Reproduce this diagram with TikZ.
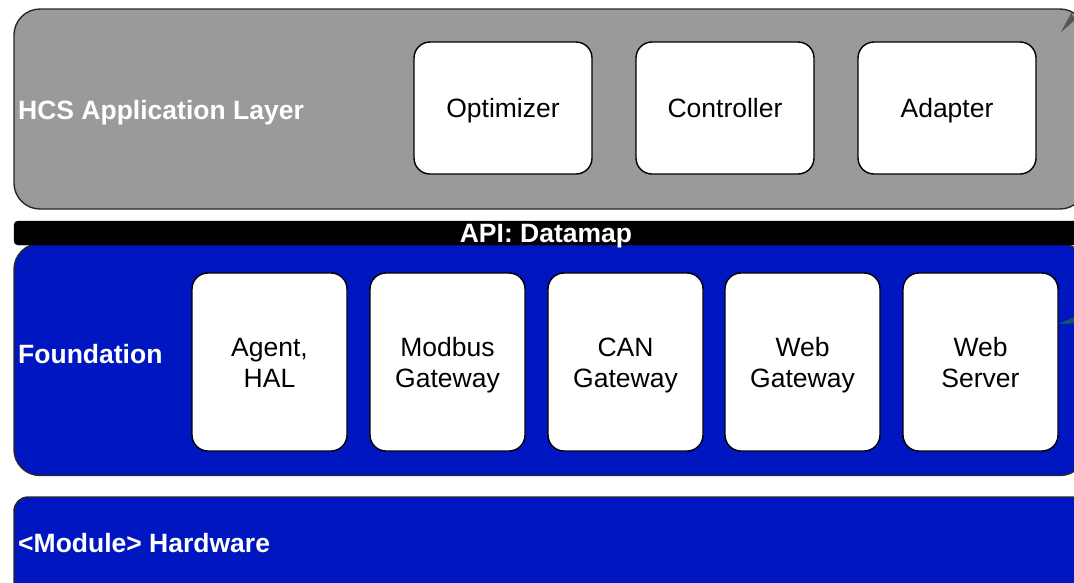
\documentclass[tikz,border=0pt]{standalone}
\usepackage{fontspec}
\setmainfont{Liberation Sans}
\usetikzlibrary{arrows.meta}
\definecolor{layergray}{RGB}{154,154,154}
\definecolor{layerblue}{RGB}{0,22,192}
\definecolor{edgegray}{RGB}{40,40,40}
\definecolor{tipgray}{RGB}{80,88,92}
\definecolor{tipteal}{RGB}{22,82,112}
% line strut so every box text sits on the same baseline
\newcommand{\ls}{\rule[-6pt]{0pt}{31pt}}
\tikzset{
  layer/.style={draw=edgegray, line width=1.4pt, rounded corners=26pt, inner sep=0pt},
  part/.style={draw=black, fill=white, line width=1.4pt, rounded corners=16pt,
    align=center, inner sep=0pt, font=\fontsize{26.5}{31}\selectfont},
  layerlabel/.style={anchor=west, text=white, inner sep=0pt,
    font=\fontsize{26.5}{31}\selectfont\bfseries},
  link/.style={line width=0.6pt, -{Stealth[length=22pt,width=8pt,inset=3pt]}}
}
\begin{document}
\begin{tikzpicture}[x=1pt, y=-1pt]
\useasboundingbox (0,0) rectangle (1074,582);
\clip (0,0) rectangle (1074,582);
\fill[white] (0,0) rectangle (1074,582);

% application layer
\node[layer, fill=layergray, minimum width=1072pt, minimum height=200pt] (app) at (550,109) {};
\node[layerlabel] (applabel) at (18,113) {HCS Application Layer};
\node[part, minimum width=178pt, minimum height=132pt] (opt) at (503,108) {\ls Optimizer};
\node[part, minimum width=178pt, minimum height=132pt] (ctl) at (725,108) {\ls Controller};
\node[part, minimum width=178pt, minimum height=132pt] (ada) at (947,108) {\ls Adapter};

% foundation layer
\node[layer, fill=layerblue, minimum width=1072pt, minimum height=232pt] (fnd) at (550,359.5) {};
\node[draw=black, fill=black, rounded corners=4pt, minimum width=1072pt, minimum height=24pt, inner sep=0pt] (api) at (550,233) {};
\node[text=white, inner sep=0pt, font=\fontsize{26.5}{31}\selectfont\bfseries] (apilabel) at (546,236.5) {API: Datamap};
\node[layerlabel] (fndlabel) at (18,354) {Foundation};
\node[part, minimum width=155pt, minimum height=178pt] (agent) at (269.5,362) {\ls Agent,\\\ls HAL};
\node[part, minimum width=155pt, minimum height=178pt] (modbus) at (447.5,362) {\ls Modbus\\\ls Gateway};
\node[part, minimum width=155pt, minimum height=178pt] (can) at (625.5,362) {\ls CAN\\\ls Gateway};
\node[part, minimum width=155pt, minimum height=178pt] (webgw) at (802.5,362) {\ls Web\\\ls Gateway};
\node[part, minimum width=155pt, minimum height=178pt] (websrv) at (980.5,362) {\ls Web\\\ls Server};

% hardware layer
\node[layer, fill=layerblue, rounded corners=14pt, minimum width=1072pt, minimum height=104pt] (hw) at (550,549) {};
\node[layerlabel] (hwlabel) at (18,543) {<Module> Hardware};

% incoming connectors from the right
\coordinate (appin) at (1061,32);
\coordinate (appsrc) at (1090,-4);
\draw[link, tipgray] (appsrc) -- (appin);
\coordinate (srvin) at (1058,324);
\coordinate (srvsrc) at (1110,312);
\draw[link, tipteal] (srvsrc) -- (srvin);
\end{tikzpicture}
\end{document}
